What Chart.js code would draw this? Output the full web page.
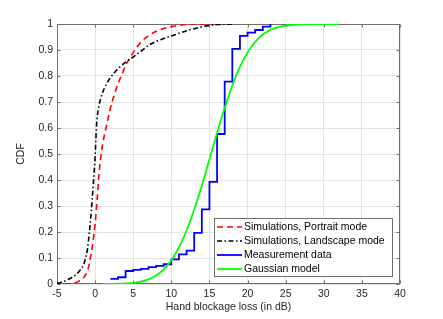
<!DOCTYPE html>
<html>
<head>
<meta charset="utf-8">
<script src="https://cdn.jsdelivr.net/npm/chart.js@4/dist/chart.umd.min.js"></script>
<style>
html,body{margin:0;padding:0;background:#fff;}
canvas{display:block;}
</style>
</head>
<body>
<canvas id="c" width="443" height="319"></canvas>
<script>
// ---- data ----
const seriesLabels = ['Simulations, Portrait mode', 'Simulations, Landscape mode', 'Measurement data', 'Gaussian model'];

const portraitX = [-4, -3.5, -3, -2.5, -2, -1.5, -1, -0.75, -0.5, -0.25, 0, 0.25, 0.5, 0.75, 1, 1.5, 2, 2.5, 3, 3.5, 4, 5, 6, 7, 8, 9, 10, 11, 12, 14, 16];
const portraitY = [0, 0.001, 0.003, 0.006, 0.013, 0.025, 0.05, 0.08, 0.12, 0.17, 0.23, 0.32, 0.42, 0.49, 0.54, 0.61, 0.675, 0.727, 0.77, 0.805, 0.84, 0.89, 0.93, 0.955, 0.972, 0.983, 0.99, 0.995, 0.998, 1.0, 1.0];

const landscapeX = [-5, -4.5, -4, -3.5, -3, -2.5, -2, -1.5, -1.25, -1, -0.75, -0.5, -0.25, 0, 0.17, 0.25, 0.5, 0.75, 1, 1.5, 2, 2.5, 3, 4, 5, 6, 7, 8, 9, 10, 11, 12, 13, 14, 15, 16, 18];
const landscapeY = [0.002, 0.006, 0.011, 0.018, 0.026, 0.036, 0.052, 0.075, 0.1, 0.135, 0.2, 0.28, 0.38, 0.49, 0.6, 0.635, 0.685, 0.715, 0.738, 0.77, 0.793, 0.812, 0.828, 0.853, 0.873, 0.895, 0.918, 0.933, 0.944, 0.954, 0.964, 0.974, 0.982, 0.989, 0.995, 0.998, 1.0];

const measX = [2, 3, 4, 5, 6, 7, 8, 9, 10, 11, 12, 13, 14, 15, 16, 17, 18, 19, 20, 21, 22, 23];
const measY = [0.02, 0.026, 0.05, 0.054, 0.058, 0.065, 0.07, 0.076, 0.095, 0.114, 0.128, 0.197, 0.287, 0.393, 0.577, 0.778, 0.904, 0.954, 0.967, 0.977, 0.99, 1.0];

const gaussX = [1, 2, 3, 4, 5, 6, 7, 8, 9, 10, 11, 12, 13, 14, 15, 16, 17, 18, 19, 20, 21, 22, 23, 24, 25, 26, 27, 28, 29, 30, 31, 32];
const gaussY = [0.0001, 0.0004, 0.0009, 0.002, 0.0045, 0.0092, 0.0177, 0.0324, 0.0559, 0.0912, 0.1408, 0.2059, 0.2864, 0.3791, 0.4796, 0.5812, 0.6779, 0.7636, 0.835, 0.8908, 0.9315, 0.9594, 0.9772, 0.988, 0.994, 0.9972, 0.9988, 0.9995, 0.9998, 0.9999, 1.0, 1.0];

const xTicks = [-5, 0, 5, 10, 15, 20, 25, 30, 35, 40];
const yTicks = [0, 0.1, 0.2, 0.3, 0.4, 0.5, 0.6, 0.7, 0.8, 0.9, 1];
const yTickLabels = ['0', '0.1', '0.2', '0.3', '0.4', '0.5', '0.6', '0.7', '0.8', '0.9', '1'];
const xTitle = 'Hand blockage loss (in dB)';
const yTitle = 'CDF';

// ---- chart ----
const FONT = '"Liberation Sans", Arial, Helvetica, sans-serif';
const TXT = '#262626';
const pts = (xs, ys) => xs.map((x, i) => ({x: x, y: ys[i]}));

const frame = {
  id: 'frame',
  beforeDatasetsDraw(chart) {
    const {ctx, chartArea: a, scales: {x, y}} = chart;
    ctx.save();
    ctx.strokeStyle = '#6e6e6e';
    ctx.lineWidth = 1;
    const L = Math.round(a.left) + 0.5, R = Math.round(a.right) - 0.5;
    const T = Math.round(a.top) + 0.5, B = Math.round(a.bottom) - 0.5;
    ctx.strokeRect(L, T, R - L, B - T);
    ctx.beginPath();
    xTicks.forEach(v => {
      const p = Math.round(x.getPixelForValue(v)) + 0.5;
      ctx.moveTo(p, B); ctx.lineTo(p, B - 3);
      ctx.moveTo(p, T); ctx.lineTo(p, T + 3);
    });
    yTicks.forEach(v => {
      const p = Math.round(y.getPixelForValue(v)) + 0.5;
      ctx.moveTo(L, p); ctx.lineTo(L + 3, p);
      ctx.moveTo(R, p); ctx.lineTo(R - 3, p);
    });
    ctx.stroke();
    ctx.restore();
  }
};

const legendBox = {
  id: 'legendBox',
  afterDraw(chart) {
    const {ctx, chartArea: a} = chart;
    const w = 178, h = 58;
    const right = Math.round(a.right) - 7.5, bottom = Math.round(a.bottom) - 7.5;
    const left = right - w, top = bottom - h;
    ctx.save();
    ctx.fillStyle = '#fff';
    ctx.fillRect(left, top, w, h);
    ctx.strokeStyle = '#6e6e6e';
    ctx.lineWidth = 1;
    ctx.strokeRect(left, top, w, h);
    ctx.font = '10.5px ' + FONT;
    ctx.textBaseline = 'middle';
    ctx.textAlign = 'left';
    chart.data.datasets.forEach((ds, i) => {
      const cy = top + 8.5 + i * 14;
      ctx.save();
      ctx.strokeStyle = ds.borderColor;
      ctx.lineWidth = ds.borderWidth;
      ctx.setLineDash(ds.borderDash || []);
      ctx.beginPath();
      ctx.moveTo(left + 2.5, cy);
      ctx.lineTo(left + 27.5, cy);
      ctx.stroke();
      ctx.restore();
      ctx.fillStyle = '#000';
      ctx.fillText(ds.label, left + 29.5, cy + 0.5);
    });
    ctx.restore();
  }
};

new Chart(document.getElementById('c'), {
  type: 'line',
  data: {
    datasets: [
      {label: seriesLabels[0], data: pts(portraitX, portraitY), borderColor: '#ff0000', borderWidth: 1.6, borderDash: [6, 4], pointRadius: 0, cubicInterpolationMode: 'monotone', order: 4},
      {label: seriesLabels[1], data: pts(landscapeX, landscapeY), borderColor: '#000000', borderWidth: 1.6, borderDash: [5, 2.5, 1.5, 2.5], pointRadius: 0, cubicInterpolationMode: 'monotone', order: 3},
      {label: seriesLabels[2], data: pts(measX, measY), borderColor: '#0000ff', borderWidth: 1.8, stepped: 'before', pointRadius: 0, order: 2},
      {label: seriesLabels[3], data: pts(gaussX, gaussY), borderColor: '#00ff00', borderWidth: 1.8, pointRadius: 0, cubicInterpolationMode: 'monotone', order: 1}
    ]
  },
  options: {
    responsive: false,
    animation: false,
    events: [],
    layout: {padding: {top: 24, right: 43, left: 0, bottom: 0}},
    plugins: {legend: {display: false}, tooltip: {enabled: false}},
    scales: {
      x: {
        type: 'linear', min: -5, max: 40,
        afterFit(s) { s.height = 35; },
        afterBuildTicks(s) { s.ticks = xTicks.map(v => ({value: v})); },
        ticks: {padding: 4, color: TXT, font: {family: FONT, size: 10.5}, maxRotation: 0, autoSkip: false,
                callback: (v) => String(v)},
        grid: {color: '#e3e3e3', drawTicks: false, lineWidth: 1},
        border: {display: false},
        title: {display: true, text: xTitle, color: TXT, font: {family: FONT, size: 10.5}, padding: {top: 0, bottom: 6}}
      },
      y: {
        type: 'linear', min: 0, max: 1,
        afterFit(s) { s.width = 57; },
        afterBuildTicks(s) { s.ticks = yTicks.map(v => ({value: v})); },
        ticks: {padding: 4, color: TXT, font: {family: FONT, size: 10.5}, autoSkip: false,
                callback: (v, i) => yTickLabels[i]},
        grid: {color: '#e3e3e3', drawTicks: false, lineWidth: 1},
        border: {display: false},
        title: {display: true, text: yTitle, color: TXT, font: {family: FONT, size: 10.5}, padding: {top: 15, bottom: 0}}
      }
    }
  },
  plugins: [frame, legendBox]
});
</script>
</body>
</html>
